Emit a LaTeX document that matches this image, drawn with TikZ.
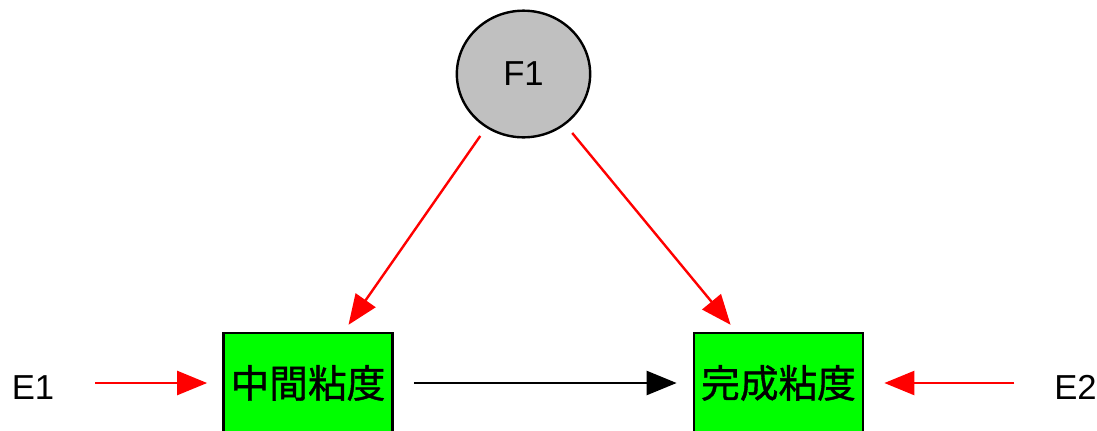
\documentclass[tikz,border=0pt]{standalone}
\usepackage{fontspec}
\setmainfont{Liberation Sans}
\newfontfamily\cjkfont[FakeBold=1]{Noto Sans CJK JP}
\usetikzlibrary{arrows.meta,shapes.geometric}
\definecolor{boxgreen}{HTML}{00FF00}
\definecolor{factorgray}{HTML}{C0C0C0}
\definecolor{pathred}{HTML}{FF0000}

\begin{document}
\begin{tikzpicture}[x=0.75pt,y=-0.75pt,
  latent/.style={ellipse, draw=black, line width=1.8pt, fill=factorgray,
    minimum width=100pt, minimum height=95pt, inner sep=0pt,
    font=\fontsize{26}{30}\selectfont},
  observed/.style={rectangle, draw=black, line width=1.8pt, fill=boxgreen,
    minimum width=127pt, minimum height=75pt, inner sep=0pt,
    font=\cjkfont\fontsize{29}{34}\selectfont},
  errlabel/.style={inner sep=0pt, text height=24pt, text depth=0pt,
    font=\fontsize{26}{30}\selectfont},
  effect/.style={line width=1.8pt, -{Triangle[length=22.5pt,width=18pt]}},
  loading/.style={effect, draw=pathred, fill=pathred},
  structural/.style={effect, draw=black, fill=black}]

  \useasboundingbox (0,0) rectangle (1097,430);

  % latent factor and the two observed viscosities
  \node[latent] (F1) at (523.5,74) {F1};
  \node[observed] (mid) at (308,383) {中間粘度};
  \node[observed] (fin) at (778.5,383) {完成粘度};

  % error terms
  \node[errlabel] (E1) at (33,383) {E1};
  \node[errlabel] (E2) at (1075.5,383) {E2};

  % factor loadings
  \draw[loading, shorten <=7.5pt, shorten >=6.4pt] (F1) -- (mid);
  \draw[loading, shorten <=8pt, shorten >=6.8pt] (F1) -- (fin);

  % error paths
  \draw[loading, shorten <=30.5pt, shorten >=11.25pt] (E1) -- (mid);
  \draw[loading, shorten <=30pt, shorten >=15pt] (E2) -- (fin);

  % intermediate to final viscosity
  \draw[structural, shorten <=15pt, shorten >=12pt] (mid) -- (fin);
\end{tikzpicture}
\end{document}
